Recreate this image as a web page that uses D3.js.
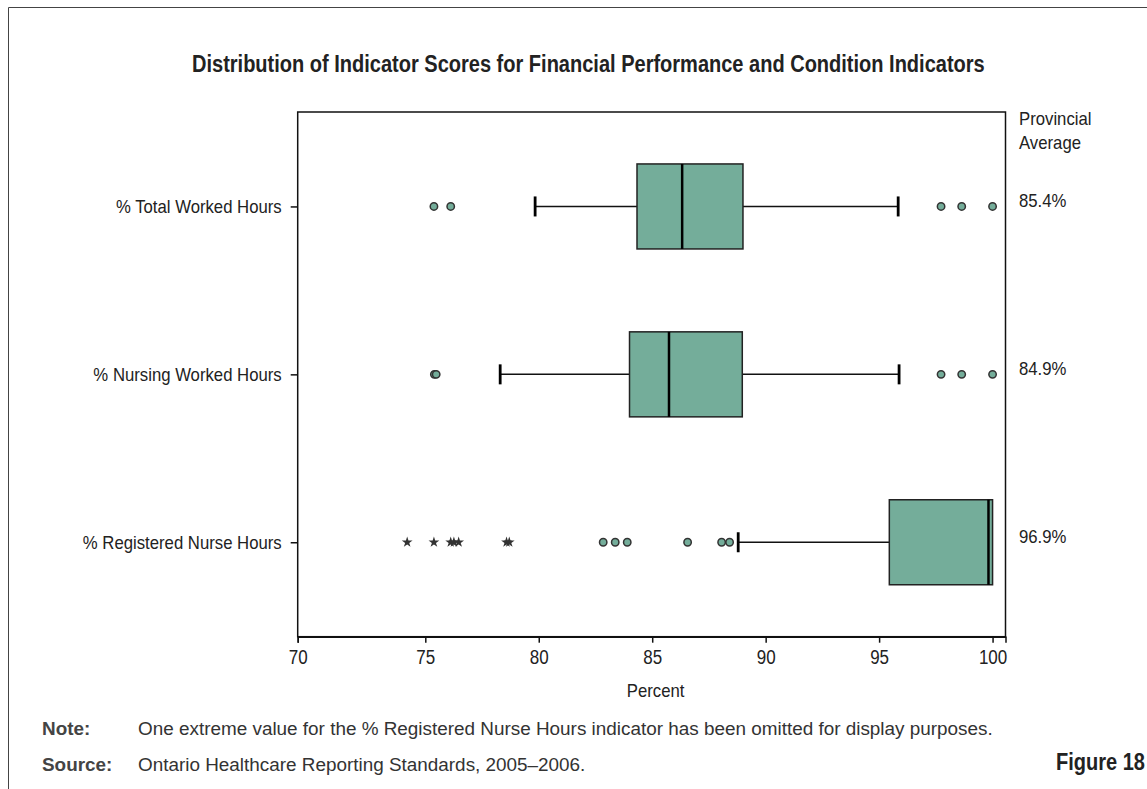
<!DOCTYPE html>
<html>
<head>
<meta charset="utf-8">
<script src="https://cdn.jsdelivr.net/npm/d3@7"></script>
<style>
  body { margin: 0; background: #fff; }
  svg text { fill: #222; font-family: "Liberation Sans", Arial, sans-serif; }
</style>
</head>
<body>
<script>
// categories, top to bottom
var categories = ["% Total Worked Hours", "% Nursing Worked Hours", "% Registered Nurse Hours"];
var averages = ["85.4%", "84.9%", "96.9%"];

// box stats
var whiskLow = [79.84, 78.3, 88.79];
var q1 = [84.33, 84.0, 95.45];
var median = [86.32, 85.74, 99.82];
var q3 = [89.0, 88.97, 100.0];
var whiskHigh = [95.84, 95.88, 100.0];

// outliers (circles) and extreme values (stars)
var mildOutliers = [
  [75.38, 76.12, 97.73, 98.64, 100.0],
  [75.4, 75.48, 97.73, 98.64, 100.0],
  [82.84, 83.37, 83.9, 86.56, 88.06, 88.41]
];
var extremeOutliers = [
  [],
  [],
  [74.29, 75.38, 76.12, 76.26, 76.47, 78.58, 78.7]
];

var tickVals = [70, 75, 80, 85, 90, 95, 100];

var width = 1147, height = 789;
var plotL = 297.7, plotR = 1005.5, plotT = 112, plotB = 636.7;
var boxColor = "#74ad9a";

// squeeze text horizontally, the original uses a condensed face
function condense(sel, k) {
  sel.each(function() {
    var len = this.getComputedTextLength();
    d3.select(this)
      .attr("textLength", len * k)
      .attr("lengthAdjust", "spacingAndGlyphs");
  });
}

var svg = d3.select("body").append("svg")
    .attr("width", width)
    .attr("height", height);

// outer frame (top and left only)
svg.append("path")
    .attr("d", "M8.5,789 V7.5 H1147")
    .attr("fill", "none")
    .attr("stroke", "#444")
    .attr("stroke-width", 1);

// the 70 label sits at the frame edge, a bit left of where 70 would fall
var x = d3.scaleLinear()
    .domain([70, 75, 100.57])
    .range([plotL, 425.3, plotR]);

var y = d3.scalePoint()
    .domain(categories)
    .range([plotT, plotB])
    .padding(0.5625);

var boxH = 85;

var title = svg.append("text")
    .attr("x", 192)
    .attr("y", 72)
    .style("font-weight", "bold")
    .style("font-size", "23px")
    .text("Distribution of Indicator Scores for Financial Performance and Condition Indicators");
condense(title, 0.87);

// plot frame
svg.append("rect")
    .attr("x", plotL)
    .attr("y", plotT)
    .attr("width", plotR - plotL)
    .attr("height", plotB - plotT)
    .attr("fill", "none")
    .attr("stroke", "#111")
    .attr("stroke-width", 1.5);

var xAxis = d3.axisBottom(x).tickValues(tickVals).tickSize(6).tickPadding(7);
var gx = svg.append("g")
    .attr("transform", "translate(0," + plotB + ")")
    .call(xAxis);
gx.select(".domain").attr("stroke", "#111").attr("stroke-width", 1.5);
gx.selectAll(".tick line").attr("stroke", "#111").attr("stroke-width", 1.5);
gx.selectAll(".tick text")
    .style("font-size", "20px")
    .style("font-family", "Liberation Sans, Arial, sans-serif")
    .attr("fill", "#222");
condense(gx.selectAll(".tick text"), 0.85);

var yAxis = d3.axisLeft(y).tickSize(7).tickPadding(9);
var gy = svg.append("g")
    .attr("transform", "translate(" + plotL + ",0)")
    .call(yAxis);
gy.select(".domain").remove();
gy.selectAll(".tick line").attr("stroke", "#111").attr("stroke-width", 1.5);
gy.selectAll(".tick text")
    .style("font-size", "19px")
    .style("font-family", "Liberation Sans, Arial, sans-serif")
    .attr("fill", "#222");
condense(gy.selectAll(".tick text"), 0.88);

var xLabel = svg.append("text")
    .attr("x", (plotL + plotR) / 2 + 4)
    .attr("y", 697)
    .attr("text-anchor", "middle")
    .style("font-size", "19px")
    .text("Percent");
condense(xLabel, 0.88);

// boxes
var rows = svg.selectAll("g.row").data(categories).enter().append("g")
    .attr("class", "row")
    .attr("transform", function(d) { return "translate(0," + y(d) + ")"; });

rows.append("line")
    .attr("x1", function(d, i) { return x(whiskLow[i]); })
    .attr("x2", function(d, i) { return x(q1[i]); })
    .attr("stroke", "#111").attr("stroke-width", 1.5);
rows.append("line")
    .attr("x1", function(d, i) { return x(q3[i]); })
    .attr("x2", function(d, i) { return x(whiskHigh[i]); })
    .attr("stroke", "#111").attr("stroke-width", 1.5);
rows.append("line")
    .attr("x1", function(d, i) { return x(whiskLow[i]); })
    .attr("x2", function(d, i) { return x(whiskLow[i]); })
    .attr("y1", -10).attr("y2", 10)
    .attr("stroke", "#000").attr("stroke-width", 2.8);
rows.append("line")
    .attr("x1", function(d, i) { return x(whiskHigh[i]); })
    .attr("x2", function(d, i) { return x(whiskHigh[i]); })
    .attr("y1", -10).attr("y2", 10)
    .attr("stroke", "#000")
    .attr("stroke-width", function(d, i) { return whiskHigh[i] > q3[i] ? 2.8 : 0; });

rows.append("rect")
    .attr("x", function(d, i) { return x(q1[i]); })
    .attr("y", -boxH / 2)
    .attr("width", function(d, i) { return x(q3[i]) - x(q1[i]); })
    .attr("height", boxH)
    .attr("fill", boxColor)
    .attr("stroke", "#222")
    .attr("stroke-width", 1.5);

rows.append("line")
    .attr("x1", function(d, i) { return x(median[i]); })
    .attr("x2", function(d, i) { return x(median[i]); })
    .attr("y1", -boxH / 2).attr("y2", boxH / 2)
    .attr("stroke", "#000").attr("stroke-width", 2.5);

rows.each(function(d, i) {
  var g = d3.select(this);
  g.selectAll("circle").data(mildOutliers[i]).enter().append("circle")
      .attr("cx", function(v) { return x(v); })
      .attr("cy", 0)
      .attr("r", 3.7)
      .attr("fill", boxColor)
      .attr("stroke", "#333")
      .attr("stroke-width", 1.5);
  g.selectAll("path.star").data(extremeOutliers[i]).enter().append("path")
      .attr("class", "star")
      .attr("transform", function(v) { return "translate(" + x(v) + ",0)"; })
      .attr("d", d3.symbol().type(d3.symbolStar).size(36))
      .attr("fill", "#333");
});

// provincial averages
var avgX = 1019;
var provHead = svg.append("g");
provHead.append("text").attr("x", avgX).attr("y", 124.5)
    .style("font-size", "19px").text("Provincial");
provHead.append("text").attr("x", avgX).attr("y", 148.5)
    .style("font-size", "19px").text("Average");
condense(provHead.selectAll("text"), 0.88);
var avgText = svg.selectAll("text.avg").data(averages).enter().append("text")
    .attr("class", "avg")
    .attr("x", avgX)
    .attr("y", function(d, i) { return y(categories[i]) + 0.5; })
    .style("font-size", "19px")
    .text(function(d) { return d; });
condense(avgText, 0.88);

// notes
svg.append("text")
    .attr("x", 42).attr("y", 735)
    .style("font-size", "18.9px").style("font-weight", "bold").style("fill", "#444")
    .text("Note:");
svg.append("text")
    .attr("x", 138).attr("y", 735)
    .style("font-size", "18.9px").style("fill", "#333")
    .text("One extreme value for the % Registered Nurse Hours indicator has been omitted for display purposes.");
svg.append("text")
    .attr("x", 42).attr("y", 771)
    .style("font-size", "18.9px").style("font-weight", "bold").style("fill", "#444")
    .text("Source:");
svg.append("text")
    .attr("x", 138).attr("y", 771)
    .style("font-size", "18.9px").style("fill", "#333")
    .text("Ontario Healthcare Reporting Standards, 2005\u20132006.");

var fig = svg.append("text")
    .attr("x", 1145).attr("y", 770)
    .attr("text-anchor", "end")
    .style("font-size", "23px").style("font-weight", "bold")
    .text("Figure 18");
condense(fig, 0.87);
</script>
</body>
</html>
